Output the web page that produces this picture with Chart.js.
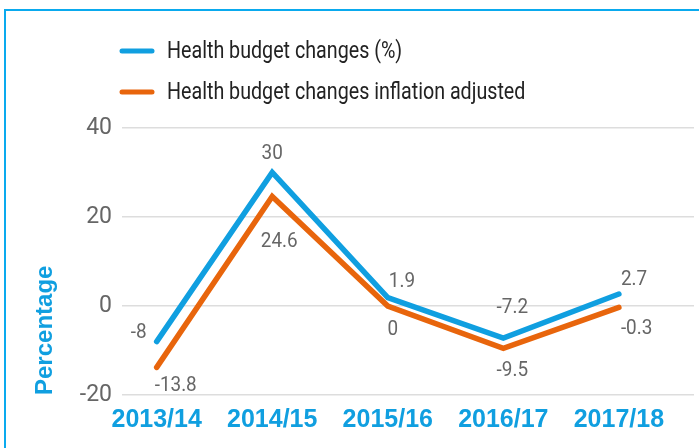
<!DOCTYPE html>
<html>
<head>
<meta charset="utf-8">
<script src="https://cdn.jsdelivr.net/npm/chart.js@4.4.1/dist/chart.umd.min.js"></script>
<style>
  html, body { margin: 0; padding: 0; background: #fff; }
  #wrap { position: relative; width: 699px; height: 448px; overflow: hidden; }
  #frame { position: absolute; left: 4px; top: 9px; width: 760px; height: 520px; border: 2px solid #0aaaee; }
  canvas { position: absolute; left: 0; top: 0; }
</style>
</head>
<body>
<div id="wrap">
  <div id="frame"></div>
  <canvas id="chart" width="699" height="448"></canvas>
</div>
<script>
const years = ["2013/14", "2014/15", "2015/16", "2016/17", "2017/18"];
const budgetChange = [-8, 30, 1.9, -7.2, 2.7];
const inflationAdjusted = [-13.8, 24.6, 0, -9.5, -0.3];
const yTicks = [-20, 0, 20, 40];

const BLUE = "#109fe0";
const ORANGE = "#e8650c";
const FONT = "Roboto, sans-serif";
const BOLD = "'Liberation Sans', Arial, sans-serif";

// where each value label sits relative to its point: [dx, dy, align]
const blueLabelPos = [[-10, -9, "right"], [0, -19, "center"], [1, -16, "left"], [9, -30, "center"], [2, -14, "left"]];
const orangeLabelPos = [[-2, 18, "left"], [7, 45, "center"], [5, 24, "center"], [9, 22, "center"], [2, 21, "left"]];

const toPoints = vals => vals.map((v, i) => ({ x: i, y: v }));

// the original uses a condensed face, so squeeze the text a bit
function narrowText(c, text, x, y, align, sx) {
  c.save();
  c.translate(x, y);
  c.scale(sx, 1);
  c.textAlign = align;
  c.fillText(text, 0, 0);
  c.restore();
}

// value labels drawn next to each point
const valueLabels = {
  id: "valueLabels",
  afterDatasetsDraw(chart) {
    const c = chart.ctx;
    c.save();
    c.font = "21px " + FONT;
    c.fillStyle = "#666";
    c.textBaseline = "middle";
    chart.data.datasets.forEach((ds, di) => {
      const meta = chart.getDatasetMeta(di);
      meta.data.forEach((pt, i) => {
        const [dx, dy, align] = ds.labelPos[i];
        narrowText(c, String(ds.data[i].y), pt.x + dx, pt.y + dy, align, 0.9);
      });
    });
    c.restore();
  }
};

// legend stacked on two rows, like the original
const stackedLegend = {
  id: "stackedLegend",
  afterDraw(chart) {
    const c = chart.ctx;
    c.save();
    c.font = "24px " + FONT;
    c.textBaseline = "middle";
    c.lineCap = "round";
    chart.data.datasets.forEach((ds, i) => {
      const y = 51 + i * 41;
      c.strokeStyle = ds.borderColor;
      c.lineWidth = 5;
      c.beginPath();
      c.moveTo(122, y);
      c.lineTo(152, y);
      c.stroke();
      c.fillStyle = "#222";
      narrowText(c, ds.label, 167, y + 1, "left", 0.82);
    });
    c.restore();
  }
};

new Chart(document.getElementById("chart"), {
  type: "line",
  data: {
    datasets: [
      {
        label: "Health budget changes (%)",
        data: toPoints(budgetChange),
        borderColor: BLUE,
        labelPos: blueLabelPos
      },
      {
        label: "Health budget changes inflation adjusted",
        data: toPoints(inflationAdjusted),
        borderColor: ORANGE,
        labelPos: orangeLabelPos
      }
    ]
  },
  options: {
    responsive: false,
    animation: false,
    events: [],
    layout: { padding: { top: 128, right: 5, bottom: 3, left: 0 } },
    elements: {
      line: { borderWidth: 5.5, tension: 0, borderCapStyle: "round", borderJoinStyle: "miter", fill: false },
      point: { radius: 0 }
    },
    plugins: {
      legend: { display: false },
      tooltip: { enabled: false }
    },
    scales: {
      x: {
        type: "linear",
        min: -0.3,
        max: 4.65,
        grid: { display: false, drawTicks: false },
        border: { display: false },
        afterBuildTicks: s => { s.ticks = years.map((_, i) => ({ value: i })); },
        ticks: {
          padding: 10,
          autoSkip: false,
          maxRotation: 0,
          color: BLUE,
          font: { family: BOLD, size: 25, weight: "bold" },
          callback: v => years[v]
        }
      },
      y: {
        min: -20,
        max: 40,
        afterBuildTicks: s => { s.ticks = yTicks.map(v => ({ value: v })); },
        afterFit: s => { s.width = 122; },
        grid: { color: "#dddddd", lineWidth: 1.5, drawTicks: false },
        border: { display: false },
        ticks: {
          padding: 10,
          color: "#666",
          font: { family: FONT, size: 23 }
        },
        title: {
          display: true,
          text: "Percentage",
          align: "start",
          color: BLUE,
          padding: { top: 31 },
          font: { family: BOLD, size: 24, weight: "bold" }
        }
      }
    }
  },
  plugins: [valueLabels, stackedLegend]
});
</script>
</body>
</html>
